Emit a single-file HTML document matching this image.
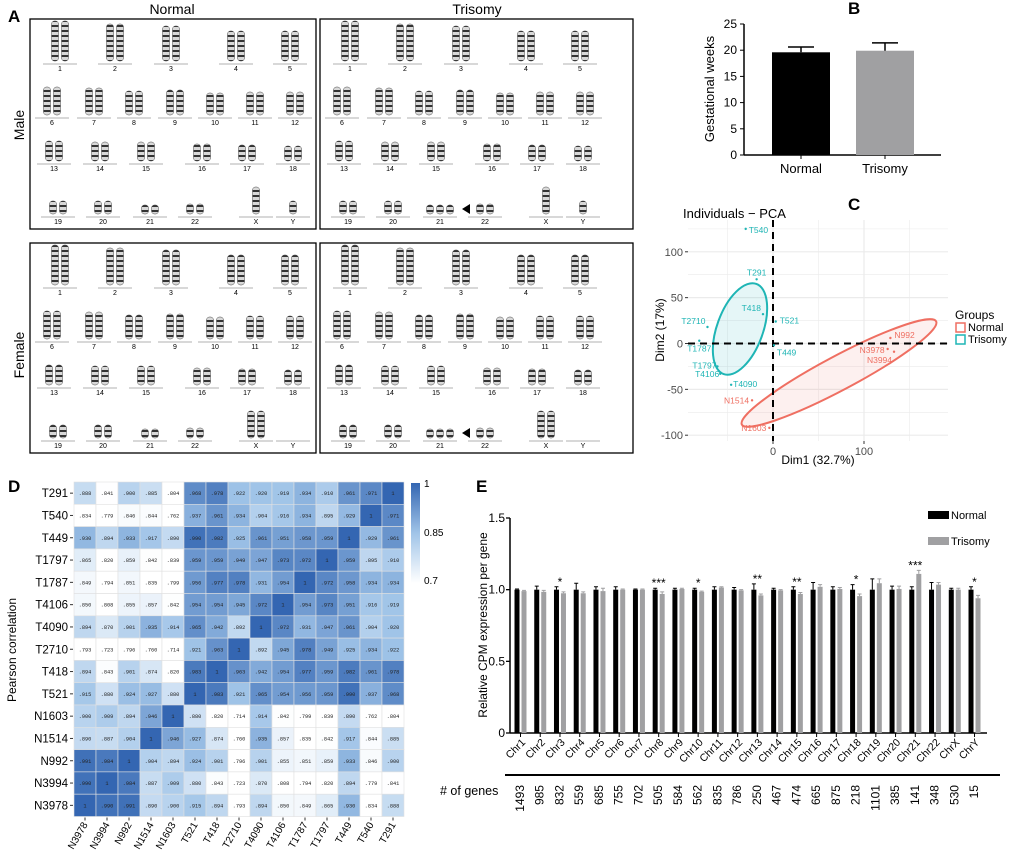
<!DOCTYPE html>
<html><head><meta charset="utf-8"><style>
body{margin:0;background:#fff}
svg{display:block;font-family:"Liberation Sans",Arial,sans-serif}
</style></head><body>
<svg id="s" width="1020" height="853" viewBox="0 0 1020 853" xmlns="http://www.w3.org/2000/svg"></svg>
<script>
// ---------- data ----------
const bGroups=["Normal","Trisomy"];
const bValues=[19.6,19.9];
const bErr=[1.0,1.5];
const bTicks=[0,5,10,15,20,25];

const pcaLabels=["T540","T291","T418","T521","T2710","T1787","T449","T1797","T4106","T4090","N1514","N1603","N992","N3978","N3994"];
const pcaX=[-30,-18,-11,3,-72,-81,1,-61,-58,-46,-23,-4,129,126,133];
const pcaY=[125,70,32,24,18,3,-2,-25,-33,-45,-62,-92,6,-6,-9];
const pcaXTicks=[0,100];
const pcaYTicks=[-100,-50,0,50,100];

const hmRows=["T291","T540","T449","T1797","T1787","T4106","T4090","T2710","T418","T521","N1603","N1514","N992","N3994","N3978"];
const hmCols=["N3978","N3994","N992","N1514","N1603","T521","T418","T2710","T4090","T4106","T1787","T1797","T449","T540","T291"];
const hmValues=[
[.888,.841,.900,.885,.804,.968,.978,.922,.920,.919,.934,.910,.961,.971,1],
[.834,.779,.846,.844,.762,.937,.961,.934,.904,.916,.934,.895,.929,1,.971],
[.930,.894,.933,.917,.890,.990,.982,.925,.961,.951,.958,.959,1,.929,.961],
[.865,.820,.859,.842,.839,.959,.959,.949,.947,.973,.972,1,.959,.895,.910],
[.849,.794,.851,.835,.799,.956,.977,.978,.931,.954,1,.972,.958,.934,.934],
[.850,.808,.855,.857,.842,.954,.954,.945,.972,1,.954,.973,.951,.916,.919],
[.894,.870,.901,.935,.914,.965,.942,.892,1,.972,.931,.947,.961,.904,.920],
[.793,.723,.796,.760,.714,.921,.963,1,.892,.945,.978,.949,.925,.934,.922],
[.894,.843,.901,.874,.820,.983,1,.963,.942,.954,.977,.959,.982,.961,.978],
[.915,.880,.924,.927,.880,1,.983,.921,.965,.954,.956,.959,.990,.937,.968],
[.900,.909,.894,.946,1,.880,.820,.714,.914,.842,.799,.839,.890,.762,.804],
[.890,.887,.904,1,.946,.927,.874,.760,.935,.857,.835,.842,.917,.844,.885],
[.991,.984,1,.904,.894,.924,.901,.796,.901,.855,.851,.859,.933,.846,.900],
[.990,1,.984,.887,.909,.880,.843,.723,.870,.808,.794,.820,.894,.779,.841],
[1,.990,.991,.890,.900,.915,.894,.793,.894,.850,.849,.865,.930,.834,.888]];

const eChr=["Chr1","Chr2","Chr3","Chr4","Chr5","Chr6","Chr7","Chr8","Chr9","Chr10","Chr11","Chr12","Chr13","Chr14","Chr15","Chr16","Chr17","Chr18","Chr19","Chr20","Chr21","Chr22","ChrX","ChrY"];
const eNormal=[1,1,1,1,1,1,1,1,1,1,1,1,1,1,1,1,1,1,1,1,1,1,1,1];
const eNormalErr=[.005,.025,.02,.045,.02,.02,.005,.01,.01,.01,.02,.015,.04,.01,.02,.05,.02,.035,.075,.025,.02,.05,.01,.02];
const eTrisomy=[.99,.985,.975,.975,.99,1,1,.97,1.005,.985,1.015,.995,.96,.995,.97,1.02,1.005,.955,1.045,1.005,1.11,1.035,1,.94];
const eTrisomyErr=[.005,.01,.01,.01,.02,.005,.005,.015,.005,.005,.005,.005,.01,.005,.01,.015,.01,.015,.03,.02,.025,.015,.01,.02];
const eStars=["","","*","","","","","***","","*","","","**","","**","","","*","","","***","","","*"];
const eGenes=[1493,985,832,559,685,755,702,505,584,562,835,786,250,467,474,665,875,218,1101,385,141,348,530,15];
const eTicks=[0,0.5,1.0,1.5];

// ---------- helpers ----------
const S=document.getElementById('s');const NS="http://www.w3.org/2000/svg";
function mk(tag,at,parent){const e=document.createElementNS(NS,tag);for(const k in at)e.setAttribute(k,at[k]);(parent||S).appendChild(e);return e;}
function tx(x,y,t,at,parent){const e=mk('text',Object.assign({x:x,y:y},at||{}),parent);e.textContent=t;return e;}

// panel letters
[["A",8,22],["B",848,14],["C",848,210],["D",8,492],["E",476,492]].forEach(p=>{const e=tx(p[1],p[2],p[0],{'font-size':17,'font-weight':'bold'});

});

// ---------- Panel A karyotypes ----------
const gA=mk('g',{});


[["Normal",172,14],["Trisomy",477,14]].forEach(t=>{const e=tx(t[1],t[2],t[0],{'font-size':14,'text-anchor':'middle'},gA);

});
[["Male",24,125],["Female",24,355]].forEach(t=>{const e=tx(t[1],t[2],t[0],{'font-size':14,'text-anchor':'middle',transform:`rotate(-90 ${t[1]} ${t[2]})`},gA);

});
const defs=mk('defs',{});
const pat=mk('pattern',{id:'band',width:6,height:5,patternUnits:'userSpaceOnUse'},defs);
mk('rect',{width:6,height:5,fill:'#d8d8d8'},pat);mk('rect',{width:6,height:2,fill:'#333'},pat);
const kRows=[
 {y:64,items:[["1",60,40],["2",115,37],["3",171,35],["4",236,30],["5",290,30]]},
 {y:118,items:[["6",52,28],["7",94,27],["8",134,24],["9",175,25],["10",215,22],["11",255,23],["12",295,23]]},
 {y:164,items:[["13",54,20],["14",100,19],["15",146,19],["16",202,17],["17",247,16],["18",293,15]]},
 {y:217,items:[["19",58,13],["20",103,13],["21",150,9],["22",195,10],["X",256,27],["Y",293,13]]}];
[[30,0,false],[320,0,true],[30,224,false],[320,224,true]].forEach((b,bi)=>{
 const box=mk('rect',{x:b[0],y:19+b[1],width:b[0]==30?286:313,height:210,fill:'none',stroke:'#000','stroke-width':1.3},gA);
 
 
 const dx=b[0]==30?0:290;
 kRows.forEach(r=>{r.items.forEach(it=>{
  const cx=it[1]+dx, base=r.y+b[1];
  let n=(it[0]=="21"&&b[2])?3:2; if(it[0]=="Y"&&bi>=2)n=0; if(it[0]=="X"&&bi>=2)n=2; if((it[0]=="X"||it[0]=="Y")&&bi<2)n=1;
  for(let k=0;k<n;k++){const w=7;const x=cx-(n*w+(n-1)*3)/2+k*(w+3);
   mk('rect',{x:x,y:base-3-it[2],width:w,height:it[2],rx:3,fill:'url(#band)',stroke:'#444','stroke-width':.5},gA);}
  mk('line',{x1:cx-17,x2:cx+17,y1:base,y2:base,stroke:'#999','stroke-width':.7},gA);
  tx(cx,base+7,it[0],{'font-size':7,'text-anchor':'middle'},gA);
 });});
 if(b[2]){const ay=217+b[1]-8;mk('path',{d:`M${462+dx-290} ${ay}l8 -5v10z`,fill:'#000'},gA);}
});

// ---------- Panel B ----------
const gB=mk('g',{});


const bx0=744,by0=155,bsc=(155-24)/25;
const byS=v=>by0-v*bsc;
mk('line',{x1:bx0,x2:bx0,y1:byS(25),y2:by0,stroke:'#000','stroke-width':1.5},gB);
mk('line',{x1:bx0,x2:941,y1:by0,y2:by0,stroke:'#000','stroke-width':1.5},gB);
bTicks.forEach(t=>{mk('line',{x1:bx0-4,x2:bx0,y1:byS(t),y2:byS(t),stroke:'#000'},gB);
 const e=tx(bx0-7,byS(t)+4,t,{'font-size':12,'text-anchor':'end'},gB);
 
 });
const yt=tx(714,89,"Gestational weeks",{'font-size':13,'text-anchor':'middle',transform:'rotate(-90 714 89)'},gB);


bGroups.forEach((g,i)=>{const cx=801+i*84;
 const r=mk('rect',{x:cx-29,y:byS(bValues[i]),width:58,height:by0-byS(bValues[i]),fill:i?'#a0a0a2':'#000'},gB);
 
 
 mk('path',{d:`M${cx} ${byS(bValues[i])}V${byS(bValues[i]+bErr[i])}M${cx-13} ${byS(bValues[i]+bErr[i])}h26`,stroke:'#000','stroke-width':1.5},gB);
 mk('line',{x1:cx,x2:cx,y1:by0,y2:by0+4,stroke:'#000'},gB);
 const l=tx(cx,173,g,{'font-size':13,'text-anchor':'middle'},gB);
 
 });

// ---------- Panel C PCA ----------
const gC=mk('g',{});


const cx0=773,cxs=0.91,cy0=343.5,cys=0.917;
const px=v=>cx0+v*cxs, py=v=>cy0-v*cys;
const pl=688,pr=948,pt=220,pb=441;
tx(683,218,"Individuals − PCA",{'font-size':13},gC);
[-50,0,50,100,150].forEach(v=>mk('line',{x1:px(v),x2:px(v),y1:pt,y2:pb,stroke:'#ebebeb','stroke-width':v%100==0?1.2:.6},gC));
[-100,-75,-50,-25,0,25,50,75,100,125].forEach(v=>mk('line',{x1:pl,x2:pr,y1:py(v),y2:py(v),stroke:'#ebebeb','stroke-width':v%50==0?1.2:.6},gC));
pcaXTicks.forEach(v=>{mk('line',{x1:px(v),x2:px(v),y1:pb,y2:pb+3,stroke:'#333'},gC);tx(px(v),pb+14,v,{'font-size':11,fill:'#4d4d4d','text-anchor':'middle'},gC);});
pcaYTicks.forEach(v=>{mk('line',{x1:pl-3,x2:pl,y1:py(v),y2:py(v),stroke:'#333'},gC);tx(pl-5,py(v)+4,v,{'font-size':11,fill:'#4d4d4d','text-anchor':'end'},gC);});
tx(818,464,"Dim1 (32.7%)",{'font-size':12,'text-anchor':'middle'},gC);
tx(664,330,"Dim2 (17%)",{'font-size':12,'text-anchor':'middle',transform:'rotate(-90 664 330)'},gC);
const et=mk('ellipse',{cx:740,cy:329,rx:23,ry:48,transform:'rotate(20 740 329)',fill:'rgba(0,170,180,0.1)',stroke:'#1fb5b5','stroke-width':2},gC);


const en=mk('ellipse',{cx:839,cy:373,rx:110,ry:17,transform:'rotate(-28 839 373)',fill:'rgba(240,110,100,0.1)',stroke:'#ef6f62','stroke-width':2},gC);


mk('line',{x1:pl,x2:pr,y1:py(0),y2:py(0),stroke:'#000','stroke-width':2,'stroke-dasharray':'7 5'},gC);
mk('line',{x1:px(0),x2:px(0),y1:pt,y2:pb,stroke:'#000','stroke-width':2,'stroke-dasharray':'7 5'},gC);
const lblOff={T540:[3,4,'start'],T291:[0,-4,'middle'],T418:[-2,-3,'end'],T521:[4,2,'start'],T2710:[-2,-3,'end'],T1787:[0,11,'middle'],T449:[3,10,'start'],T1797:[-1,2,'end'],T4106:[-1,3,'end'],T4090:[2,2,'start'],N1514:[-3,3,'end'],N1603:[-3,3,'end'],N992:[4,0,'start'],N3978:[-3,4,'end'],N3994:[-2,11,'end']};
pcaLabels.forEach((n,i)=>{const col=n[0]=='T'?'#1fb5b5':'#ef6f62';
 const p=mk('circle',{cx:px(pcaX[i]),cy:py(pcaY[i]),r:1.2,fill:col},gC);
 
 
 const o=lblOff[n];tx(px(pcaX[i])+o[0],py(pcaY[i])+o[1],n,{'font-size':8.5,fill:col,'text-anchor':o[2]},gC);});
const lg=mk('g',{},gC);


tx(955,319,"Groups",{'font-size':12},lg);
[["Normal",'#ef6f62',331],["Trisomy",'#1fb5b5',343]].forEach(l=>{mk('rect',{x:956,y:l[2]-8,width:9,height:9,fill:'none',stroke:l[1],'stroke-width':1.5},lg);tx(968,l[2],l[0],{'font-size':11},lg);});

// ---------- Panel D heatmap ----------
const gD=mk('g',{});


const hx0=74,hy0=482,cw=22,ch=22.3;
function hcol(v){let t=Math.max(0,Math.min(1,(v-0.84)/0.16));
 const a=[255,255,255],m=[160,196,232],b=[52,102,178];let c;
 c=t<.5?a.map((q,k)=>q+(m[k]-q)*t*2):m.map((q,k)=>q+(b[k]-q)*(t-.5)*2);
 return `rgb(${c.map(Math.round).join(',')})`;}
hmRows.forEach((r,i)=>{hmCols.forEach((c,j)=>{const v=hmValues[i][j];
 const cell=mk('rect',{x:hx0+j*cw,y:hy0+i*ch,width:cw,height:ch,fill:hcol(v),stroke:'#e0e0e0','stroke-width':.6},gD);
 
 
 tx(hx0+j*cw+cw/2,hy0+i*ch+ch/2+2,v==1?'1':v.toFixed(3).slice(1),{'font-size':5.3,'text-anchor':'middle',fill:'#222','font-family':'Liberation Mono,monospace'},gD);});
 tx(hx0-6,hy0+i*ch+ch/2+4,r,{'font-size':11.5,'text-anchor':'end'},gD);
 mk('line',{x1:hx0-4,x2:hx0-1,y1:hy0+i*ch+ch/2,y2:hy0+i*ch+ch/2,stroke:'#333'},gD);});
const hb=hy0+hmRows.length*ch;
hmCols.forEach((c,j)=>{const x=hx0+j*cw+cw/2;mk('line',{x1:x,x2:x,y1:hb+1,y2:hb+4,stroke:'#333'},gD);
 tx(x+3,hb+8,c,{'font-size':10,'text-anchor':'end',transform:`rotate(-60 ${x+3} ${hb+8})`},gD);});
tx(16,650,"Pearson correlation",{'font-size':12,'text-anchor':'middle',transform:'rotate(-90 16 650)'},gD);
const lgd=mk('linearGradient',{id:'cb',x1:0,y1:0,x2:0,y2:1},defs);
[[0,1],[.5,.92],[1,.84]].forEach(s=>mk('stop',{offset:s[0],'stop-color':hcol(s[1])},lgd));
const cbar=mk('rect',{x:411,y:483,width:9,height:100,fill:'url(#cb)'},gD);


[["1",487],["0.85",536],["0.7",584]].forEach(l=>tx(424,l[1],l[0],{'font-size':10},gD));

// ---------- Panel E ----------
const gE=mk('g',{});


const ex0=510,ey0=733,esc=(733-518)/1.5;
const ey=v=>ey0-v*esc, exC=i=>517+i*19.74;
mk('line',{x1:ex0,x2:ex0,y1:ey(1.5),y2:ey0,stroke:'#000','stroke-width':1.5},gE);
mk('line',{x1:ex0,x2:987,y1:ey0,y2:ey0,stroke:'#000','stroke-width':1.5},gE);
eTicks.forEach(t=>{mk('line',{x1:ex0-4,x2:ex0,y1:ey(t),y2:ey(t),stroke:'#000','stroke-width':1.3},gE);
 tx(ex0-5,ey(t)+4,t==0?'0':t.toFixed(1),{'font-size':12,'text-anchor':'end'},gE);});
tx(487,625,"Relative CPM expression per gene",{'font-size':12,'text-anchor':'middle',transform:'rotate(-90 487 625)'},gE);
eChr.forEach((c,i)=>{const x=exC(i);
 [[eNormal,eNormalErr,'#000',0,'normal'],[eTrisomy,eTrisomyErr,'#a0a0a2',7,'trisomy']].forEach(s=>{
  const v=s[0][i],xx=x+s[3];
  const r=mk('rect',{x:xx-2.5,y:ey(v),width:5,height:ey0-ey(v),fill:s[2]},gE);
  
  
  mk('path',{d:`M${xx} ${ey(v)}V${ey(v+s[1][i])}M${xx-2} ${ey(v+s[1][i])}h4`,stroke:s[2],'stroke-width':1},gE);});
 if(eStars[i]){const sv=Math.max(eNormal[i]+eNormalErr[i],eTrisomy[i]+eTrisomyErr[i]);tx(x+3.5,ey(sv)-1,eStars[i],{'font-size':12,'text-anchor':'middle'},gE);}
 mk('line',{x1:x+3.5,x2:x+3.5,y1:ey0,y2:ey0+4,stroke:'#000'},gE);
 tx(x+9,ey0+10,c,{'font-size':10.5,'text-anchor':'end',transform:`rotate(-45 ${x+9} ${ey0+10})`},gE);
 tx(x+7,ey0+52,eGenes[i],{'font-size':12,'text-anchor':'end',transform:`rotate(-90 ${x+7} ${ey0+52})`},gE);});
mk('line',{x1:505,x2:1000,y1:775,y2:775,stroke:'#000','stroke-width':2},gE);
tx(440,795,"# of genes",{'font-size':12.5},gE);
const el=mk('g',{},gE);


mk('rect',{x:928,y:511,width:21,height:8,fill:'#000'},el);tx(951,519,"Normal",{'font-size':11},el);
mk('rect',{x:928,y:537,width:21,height:8,fill:'#a0a0a2'},el);tx(951,545,"Trisomy",{'font-size':11},el);
</script>
</body></html>
